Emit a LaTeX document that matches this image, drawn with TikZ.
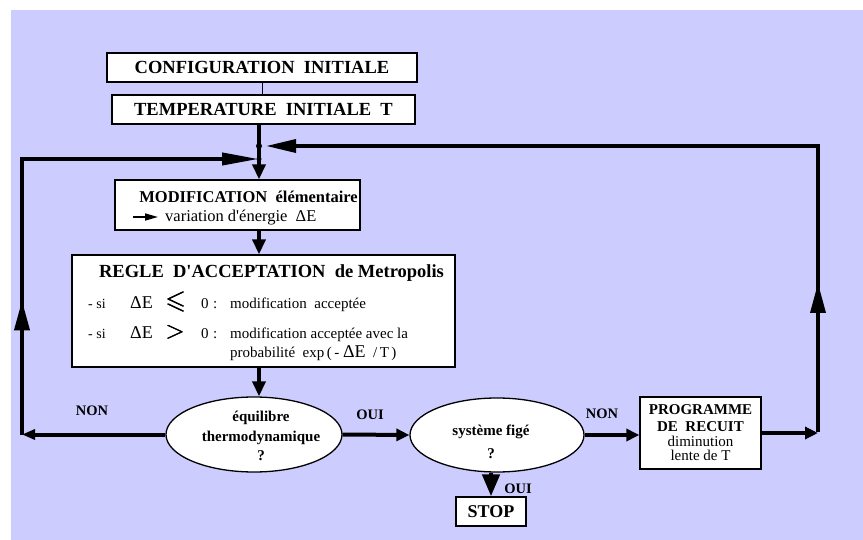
\documentclass[tikz,border=0pt]{standalone}
\usepackage{fontspec}
\setmainfont{Liberation Serif}[Ligatures=TeXOff]
\usepackage{amsmath,amssymb}
\usetikzlibrary{arrows.meta,decorations.markings,shapes.geometric}
\definecolor{lavender}{HTML}{CCCCFF}
\newcommand\fsz[1]{\fontsize{#1}{#1}\selectfont}

\begin{document}
\begin{tikzpicture}[x=1pt,y=-1pt,
  box/.style={draw=black,line width=1.3pt,fill=white,inner sep=0pt},
  oval/.style={ellipse,draw=black,line width=1.3pt,fill=white,inner sep=0pt},
  txt/.style={inner sep=0pt},
  flow/.style={line width=4pt},
  tipdown/.style={-{Triangle[length=15pt,width=13pt]}},
  tipside/.style={-{Triangle[length=13pt,width=12pt]}},
  midarrow/.style={postaction={decorate,decoration={markings,
      mark=at position #1 with {\arrow{Triangle[length=30pt,width=15pt]}}}}},
  lbl/.style={txt,font={\fsz{14.5}\bfseries}},
]
\useasboundingbox (0,0) rectangle (863,540);
\fill[lavender] (11,10) rectangle (863,540);

% initial boxes
\node[box,minimum width=310pt,minimum height=29pt,font={\fsz{18.5}\bfseries}]
  (config) at (262,67.5) {CONFIGURATION\ \ INITIALE};
\node[box,minimum width=303pt,minimum height=29pt,font={\fsz{18.5}\bfseries}]
  (temp) at (263.5,109.5) {TEMPERATURE\ \ INITIALE\ \ T};
\draw[line width=0.8pt] (config.south) -- (config.south |- temp.north);

% elementary move
\node[box,minimum width=245pt,minimum height=50pt] (modif) at (237.5,205) {};
\node[txt,anchor=base east,font={\fsz{16.5}\bfseries}]
  (modiftitle) at (358,203) {MODIFICATION\ \ élémentaire};
\coordinate (va) at (133,217);
\coordinate (vb) at (158,217);
\draw[line width=1.6pt,-{Triangle[length=13pt,width=7pt]}] (va) -- (vb);
\node[txt,anchor=base west,font=\fsz{16.5}] (modifline) at (165,222) {variation d'énergie\ \ ΔE};

% Metropolis rule
\node[box,minimum width=383pt,minimum height=112pt] (regle) at (263.5,311) {};
\node[txt,anchor=base,font={\fsz{18.5}\bfseries}]
  (regletitle) at (271.5,278) {REGLE\ \ D'ACCEPTATION\ \ de Metropolis};
\node[txt,anchor=base west,font=\fsz{15}] (rl1) at (88,309)
  {\makebox[42pt][l]{\fsz{14}- si}\makebox[36pt][l]{\fsz{18}ΔE}%
   \makebox[35pt][l]{\fsz{26}$\pmb{\leqslant}$}\makebox[12pt][l]{0}%
   \makebox[17pt][l]{:}modification\ \ acceptée};
\node[txt,anchor=base west,font=\fsz{15}] (rl2) at (88,339)
  {\makebox[42pt][l]{\fsz{14}- si}\makebox[36pt][l]{\fsz{18}ΔE}%
   \makebox[35pt][l]{\fsz{26}$\pmb{>}$}\makebox[12pt][l]{0}%
   \makebox[17pt][l]{:}modification acceptée avec la};
\node[txt,anchor=base west,font=\fsz{15}] (rl3) at (230,357)
  {probabilité\ \ exp\,(\,-\ {\fsz{18}ΔE}\ \ /\,T\,)};

% tests
\node[oval,minimum width=176pt,minimum height=75pt] (eq) at (254,434.5) {};
\node[txt,align=center,font={\fontsize{15}{19.5}\selectfont\bfseries}]
  (eqtext) at (261,436) {équilibre\\thermodynamique\\?};
\node[oval,minimum width=174pt,minimum height=74pt] (fig) at (497,435) {};
\node[txt,align=center,font={\fontsize{15}{23}\selectfont\bfseries}]
  (figtext) at (491,441.5) {système figé\\?};

% annealing schedule and stop
\node[box,minimum width=121pt,minimum height=72pt,align=center,
      font={\fontsize{15}{14.5}\selectfont}] (prog) at (700.5,433)
  {\textbf{PROGRAMME}\\[2.5pt]\textbf{DE\ \ RECUIT}\\diminution\\lente de T};
\node[box,minimum width=70pt,minimum height=29pt,font={\fsz{18}\bfseries}]
  (stop) at (491,511.5) {STOP};

% labels
\node[lbl] (non1) at (92,411) {NON};
\node[lbl] (oui1) at (370,415) {OUI};
\node[lbl] (non2) at (602,414) {NON};
\node[lbl] (oui2) at (518,489) {OUI};

% junctions and loop corners
\coordinate (jA) at (259,146);
\coordinate (jB) at (259,159);
\coordinate (cL1) at (22,434.5);
\coordinate (cL2) at (22,159);
\coordinate (cR1) at (818,432);
\coordinate (cR2) at (818,146);

% main flow
\draw[flow] (jA |- temp.south) -- (jB);
\draw[flow,tipdown] (jB) -- (jB |- modif.north);
\draw[flow,tipdown] (jB |- modif.south) -- (jB |- regle.north);
\draw[flow,tipdown] (jB |- regle.south) -- (jB |- eq.north);
\draw[flow,tipside] (eq.east) -- (fig.west);
\draw[flow,tipside] (fig.east) -- (fig.east -| prog.west);
\draw[flow,tipside] (prog.east) -- (prog.east -| cR1);
\draw[line width=4.5pt,-{Triangle[length=22pt,width=17pt]}] (stop.north |- fig.south) -- (stop.north);

% NON loop back to the elementary move
\draw[flow,-{Triangle[length=13pt,width=10pt]}] (eq.west) -- (cL1);
\draw[flow,midarrow=134pt,-{Triangle[length=37pt,width=12pt]}] (cL1) -- (cL2) -- (jB);

% temperature decrease loop
\draw[line width=3.5pt,midarrow=149pt,-{Triangle[length=30pt,width=13pt]},shorten >=7pt]
  (cR1) -- (cR2) -- (jA);

\fill (jA) circle (3);
\fill (jB) circle (2.5);
\end{tikzpicture}
\end{document}
